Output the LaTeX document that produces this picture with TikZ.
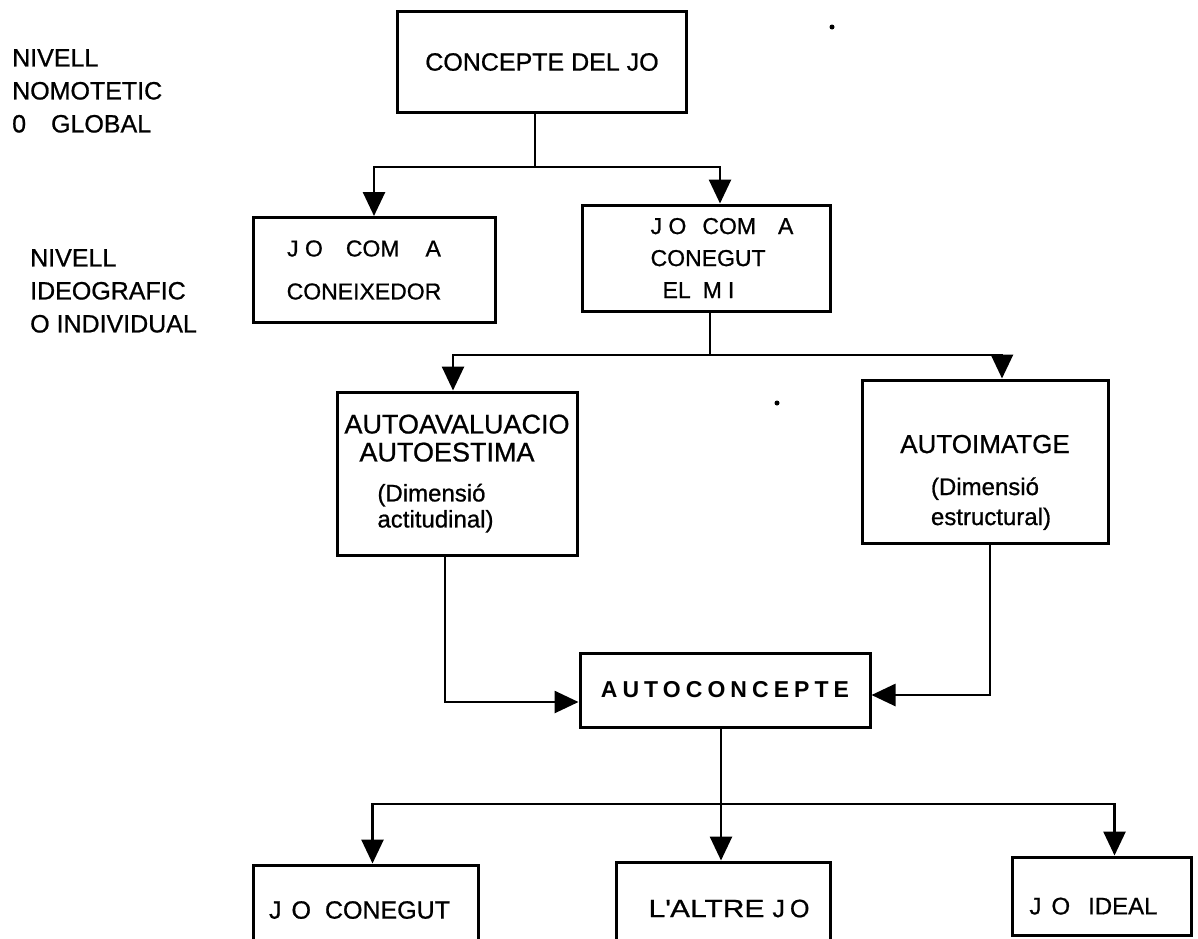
\documentclass[tikz,border=0pt]{standalone}
\usepackage{fontspec}
\setmainfont{Liberation Sans}[FakeBold=0.8]
\newfontfamily\spacedfont[LetterSpace=22]{Liberation Sans}
\usetikzlibrary{arrows.meta,positioning}
\newcommand\bigtxt{\fontsize{27}{28}\selectfont}

\begin{document}
\begin{tikzpicture}[x=1pt,y=-1pt,
  box/.style={rectangle,draw,line width=3pt,inner sep=2pt,font=\fontsize{23}{28}\selectfont,align=center},
  arr/.style={-{Triangle[length=24pt,width=22pt]},line width=2.7pt},
  link/.style={line width=2.7pt},
  lvl/.style={anchor=north west,inner sep=0pt,align=left,font=\fontsize{25}{33}\selectfont}
]
\useasboundingbox (0,0) rectangle (1198,938);

% levels
\node[lvl] (nomot) at (12,49) {NIVELL\\NOMOTETIC\\0\quad GLOBAL};
\node[lvl] (ideog) at (30,249) {NIVELL\\IDEOGRAFIC\\O INDIVIDUAL};

% boxes
\node[box,minimum width=289pt,minimum height=101pt,font=\fontsize{25}{30}\selectfont] (concepte) at (542,62) {CONCEPTE DEL JO};
\node[box,minimum width=242pt,minimum height=105pt,font=\fontsize{23}{43}\selectfont] (coneix) at (374,270) {J O\hspace{23pt}COM\hspace{26pt}A\rule{20pt}{0pt}\\CONEIXEDOR\rule{20pt}{0pt}};
\node[box,minimum width=248pt,minimum height=106pt,align=left,font=\fontsize{23}{32}\selectfont] (conegut) at (706,258) {\hspace*{32pt}J O\hspace{16pt}COM\hspace{22pt}A\\\hspace*{32pt}CONEGUT\\\hspace*{44pt}EL\hspace{12pt}M\hspace{6pt}I};
\node[box,minimum width=240pt,minimum height=163pt,align=left,font=\fontsize{24}{26}\selectfont] (autoav) at (457,473.5) {{\bigtxt AUTOAVALUACIO}\\[2pt]\hspace*{15pt}{\bigtxt AUTOESTIMA}\\[14pt]\hspace*{33pt}(Dimensió\\\hspace*{33pt}actitudinal)};
\node[box,minimum width=246pt,minimum height=163pt,font=\fontsize{24}{30}\selectfont] (autoim) at (985,461.5) {\rule{0pt}{60pt}\fontsize{26}{28}\selectfont AUTOIMATGE\\[12pt]\rule{12pt}{0pt}(Dimensió\rule{12pt}{0pt}\\\rule{12pt}{0pt}estructural)};
\node[box,minimum width=290pt,minimum height=74pt] (autoc) at (725,690) {\spacedfont\bfseries AUTOCONCEPTE};
\node[box,minimum width=225pt,minimum height=90pt,font=\fontsize{25}{30}\selectfont] (jocon) at (365.5,910) {J\hspace{10pt}O\hspace{14pt}CONEGUT\rule{12pt}{0pt}};
\node[box,minimum width=214pt,minimum height=93pt,font=\fontsize{25}{30}\selectfont] (altre) at (723,908.5) {\rule{12pt}{0pt}{\addfontfeature{FakeStretch=1.2}L\textquotesingle ALTRE}\hspace{8pt}J\hspace{5pt}O};
\node[box,minimum width=179pt,minimum height=78pt,font=\fontsize{24}{30}\selectfont] (ideal) at (1101.5,896) {\rule{0pt}{37pt}J\hspace{10pt}O\hspace{18pt}IDEAL\rule{16pt}{0pt}};

% branching connectors
\coordinate (j1) at (535,167);
\draw[link] (concepte.south -| j1) -- (j1);
\draw[arr] (j1) -| (coneix.north);
\draw[arr] (j1) -| ([xshift=14pt]conegut.north);

\coordinate (j2) at (710,355);
\draw[link] (conegut.south -| j2) -- (j2);
\draw[arr] (j2) -| ([xshift=-4pt]autoav.north);
\draw[arr] (j2) -| ([xshift=17pt]autoim.north);

\draw[arr] ([xshift=-12pt]autoav.south) |- ([yshift=-12pt]autoc.west);
\draw[arr] ([xshift=5pt]autoim.south) |- ([yshift=-5pt]autoc.east);

\coordinate (j3) at (721,804);
\draw[link] (autoc.south -| j3) -- (j3);
\draw[arr] (j3) -| ([xshift=7pt]jocon.north);
\draw[arr] (j3) -- (j3 |- altre.north);
\draw[arr] (j3) -| ([xshift=13pt]ideal.north);

% specks
\fill (832,27) circle (2.5pt);
\fill (777,403) circle (2.5pt);
\end{tikzpicture}
\end{document}
